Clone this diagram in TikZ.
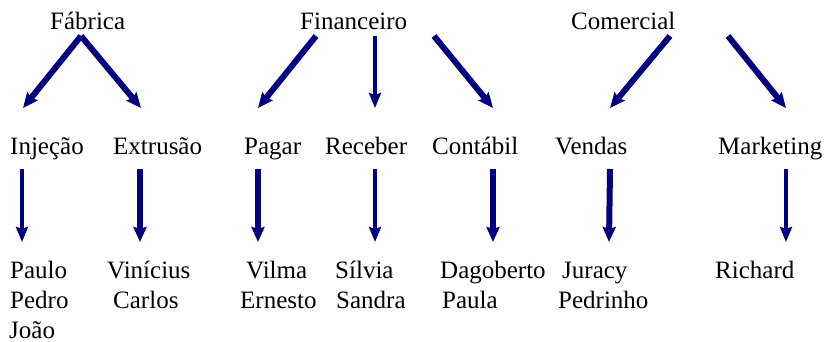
\documentclass[tikz,border=0pt]{standalone}
\usepackage{fontspec}
\setmainfont{Liberation Serif}
\usetikzlibrary{arrows.meta}
\definecolor{navyblue}{RGB}{0,0,128}
\begin{document}
\begin{tikzpicture}[x=1pt,y=-1pt,
  lbl/.style={anchor=base west,inner sep=0pt,font=\fontsize{25}{30}\selectfont},
  arrbold/.style={draw=navyblue,line width=6pt,-{Stealth[length=15pt,width=13pt,inset=2pt,fill=navyblue]}},
  arrthin/.style={draw=navyblue,line width=4pt,-{Stealth[length=15pt,width=12pt,inset=2pt,fill=navyblue]}}]
\useasboundingbox (0,0) rectangle (824,342);
% top row
\node[lbl] (fab) at (50,30) {Fábrica};
\node[lbl] (fin) at (300,30) {Financeiro};
\node[lbl] (com) at (571,30) {Comercial};
% middle row
\node[lbl] (inj) at (10,154) {Injeção};
\node[lbl] (ext) at (113,154) {Extrusão};
\node[lbl] (pag) at (244,154) {Pagar};
\node[lbl] (rec) at (325,154) {Receber};
\node[lbl] (cont) at (432,154) {Contábil};
\node[lbl] (ven) at (555,154) {Vendas};
\node[lbl] (mkt) at (718,154) {Marketing};
% bottom rows
\node[lbl] (paulo) at (10,278) {Paulo};
\node[lbl] (pedro) at (10,308) {Pedro};
\node[lbl] (joao) at (9,338) {João};
\node[lbl] (vini) at (107,278) {Vinícius};
\node[lbl] (carlos) at (113,308) {Carlos};
\node[lbl] (vilma) at (246,278) {Vilma};
\node[lbl] (ernesto) at (240,308) {Ernesto};
\node[lbl] (silvia) at (335,278) {Sílvia};
\node[lbl] (sandra) at (336,308) {Sandra};
\node[lbl] (dago) at (440,278) {Dagoberto};
\node[lbl] (paula) at (442,308) {Paula};
\node[lbl] (juracy) at (562,278) {Juracy};
\node[lbl] (pedrinho) at (558,308) {Pedrinho};
\node[lbl] (richard) at (715,278) {Richard};
% arrow end points
\coordinate (fabS) at (81,36);
\coordinate (injT) at (23,108);
\coordinate (extT) at (141,108);
\coordinate (finS1) at (316,36);
\coordinate (pagT) at (258,108);
\coordinate (finS2) at (375,36);
\coordinate (recT) at (375,108);
\coordinate (finS3) at (434,36);
\coordinate (contT) at (493,108);
\coordinate (comS1) at (670,36);
\coordinate (venT) at (610,108);
\coordinate (comS2) at (728,36);
\coordinate (mktT) at (786,108);
\coordinate (injS) at (22,169);  \coordinate (pauloT) at (22,242);
\coordinate (extS) at (140,169); \coordinate (viniT) at (140,242);
\coordinate (pagS) at (258,169); \coordinate (vilmaT) at (258,242);
\coordinate (recS) at (375,169); \coordinate (silviaT) at (375,242);
\coordinate (contS) at (493,169); \coordinate (dagoT) at (493,242);
\coordinate (venS) at (610,169); \coordinate (juracyT) at (609,242);
\coordinate (mktS) at (786,169); \coordinate (richardT) at (786,242);
% arrows
\draw[arrbold] (fabS) -- (injT);
\draw[arrbold] (fabS) -- (extT);
\draw[arrbold] (finS1) -- (pagT);
\draw[arrthin] (finS2) -- (recT);
\draw[arrbold] (finS3) -- (contT);
\draw[arrbold] (comS1) -- (venT);
\draw[arrbold] (comS2) -- (mktT);
\draw[arrthin] (injS) -- (pauloT);
\draw[arrbold] (extS) -- (viniT);
\draw[arrbold] (pagS) -- (vilmaT);
\draw[arrthin] (recS) -- (silviaT);
\draw[arrbold] (contS) -- (dagoT);
\draw[arrbold] (venS) -- (juracyT);
\draw[arrthin] (mktS) -- (richardT);
\end{tikzpicture}
\end{document}
